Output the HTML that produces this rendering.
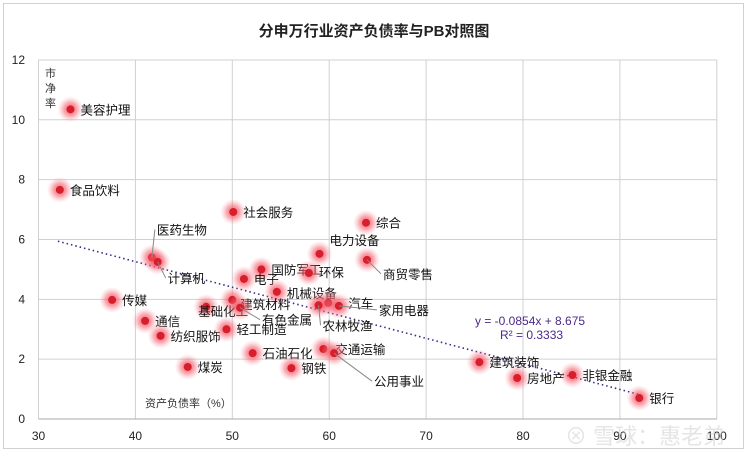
<!DOCTYPE html>
<html><head><meta charset="utf-8"><style>
body{margin:0;background:#fff}
svg text{font-family:"Liberation Sans","Noto Sans CJK SC",sans-serif}
</style></head><body>
<svg id="c" width="748" height="452" xmlns="http://www.w3.org/2000/svg">
<defs><radialGradient id="glow"><stop offset="0" stop-color="#f04050" stop-opacity="0.9"/><stop offset="0.5" stop-color="#f46070" stop-opacity="0.55"/><stop offset="1" stop-color="#f8a0a8" stop-opacity="0"/></radialGradient></defs>
<rect x="3.5" y="3.5" width="740" height="445" fill="#fff" stroke="#d0d0d0"/>
<text x="374" y="36" text-anchor="middle" font-size="15" font-weight="bold" fill="#222">分申万行业资产负债率与PB对照图</text>
<g id="grid"></g><g id="pts"></g>
<text x="145" y="407" font-size="11" fill="#333">资产负债率（%）</text>
<g font-size="11" fill="#333"><text x="45" y="77">市</text><text x="45" y="92">净</text><text x="45" y="107">率</text></g>
<text x="475" y="325" font-size="12" fill="#4b2a8a">y = -0.0854x + 8.675</text>
<text x="500" y="339" font-size="12" fill="#4b2a8a">R² = 0.3333</text>
<text x="565" y="444" font-size="22" fill="#ccc" fill-opacity="0.5">⊗ 雪球：惠老弟</text>
</svg>
<script>
const names=["美容护理","食品饮料","社会服务","综合","医药生物","计算机","电力设备","商贸零售","国防军工","环保","电子","机械设备","传媒","建筑材料","基础化工","汽车","家用电器","农林牧渔","有色金属","通信","纺织服饰","轻工制造","石油石化","交通运输","公用事业","煤炭","钢铁","建筑装饰","房地产","非银金融","银行"];
const debt=[33.3,32.2,50.1,63.8,41.7,42.3,59.0,63.9,53.0,57.9,51.2,54.6,37.6,50.0,47.3,59.9,61.0,58.9,50.8,41.0,42.6,49.4,52.1,59.4,60.5,45.4,56.1,75.5,79.4,85.1,92.0];
const pb=[10.35,7.66,6.92,6.56,5.4,5.25,5.52,5.32,5.0,4.88,4.68,4.25,3.98,3.98,3.75,3.88,3.78,3.8,3.72,3.28,2.78,3.0,2.2,2.34,2.2,1.74,1.7,1.9,1.37,1.47,0.7];
const xTicks=[30,40,50,60,70,80,90,100];
const yTicks=[0,2,4,6,8,10,12];
const slope=-0.0854, intercept=8.675;
const lab={"医药生物":[5,-24],"计算机":[10,20],"电力设备":[10,-10],"商贸零售":[16,18],"环保":[10,3],"家用电器":[40,8],"汽车":[20,4],"农林牧渔":[4,24],"有色金属":[22,16],"公用事业":[40,32],"交通运输":[12,4],"建筑材料":[8,8],"基础化工":[-8,8],"机械设备":[10,5],"国防军工":[10,4]};
const X=v=>38.5+(v-30)*9.69, Y=v=>419-v*29.92;
const ns="http://www.w3.org/2000/svg";
function mk(t,a,p){const e=document.createElementNS(ns,t);for(const k in a)e.setAttribute(k,a[k]);p.appendChild(e);return e;}
const g=document.getElementById('grid');
xTicks.forEach(t=>{const l=mk('line',{x1:X(t),x2:X(t),y1:Y(12),y2:Y(0),stroke:'#d0d0d0'},g);


const tx=mk('text',{x:X(t),y:440,'text-anchor':'middle','font-size':12,fill:'#222'},g);tx.textContent=t;

});
yTicks.forEach(t=>{const l=mk('line',{x1:X(30),x2:X(100),y1:Y(t),y2:Y(t),stroke:'#d0d0d0'},g);


const tx=mk('text',{x:25,y:Y(t)+4,'text-anchor':'end','font-size':12,fill:'#222'},g);tx.textContent=t;

});
const ax=mk('line',{x1:X(30),x2:X(100),y1:Y(0),y2:Y(0),stroke:'#aaa'},g);


const p=document.getElementById('pts');
const tl=mk('line',{x1:X(32),y1:Y(slope*32+intercept),x2:X(92),y2:Y(slope*92+intercept),stroke:'#3a2a8a','stroke-width':1.6,'stroke-dasharray':'1.5 3'},p);


names.forEach((n,i)=>{const cx=X(debt[i]),cy=Y(pb[i]);
const gl=mk('circle',{cx,cy,r:13,fill:'url(#glow)'},p);


const c=mk('circle',{cx,cy,r:4,fill:'#d81e2a'},p);


const o=lab[n]||[10,4];
if(lab[n]&&(Math.abs(o[1])>12||o[0]>25)){const ll=mk('line',{x1:cx,y1:cy,x2:cx+o[0]-2,y2:cy+o[1]-4,stroke:'#888'},p);

}
const tx=mk('text',{x:cx+o[0],y:cy+o[1]+1,'font-size':12.5,fill:'#111'},p);tx.textContent=n;

});
</script>
</body></html>
